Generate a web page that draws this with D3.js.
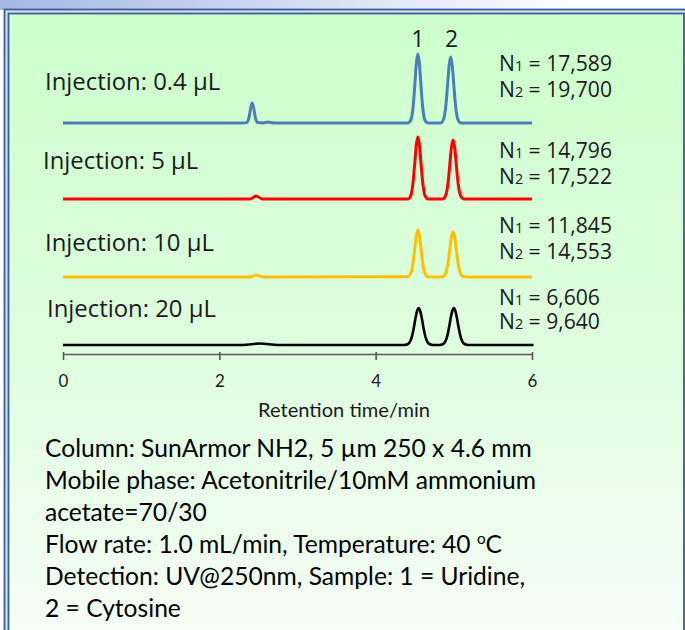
<!DOCTYPE html>
<html><head><meta charset="utf-8">
<script src="https://cdn.jsdelivr.net/npm/d3@7"></script>
<style>body{margin:0;background:#fff}svg{display:block}</style>
</head><body>
<svg id="c" width="685" height="630"></svg>
<script>
// ---------- data ----------
const timeTicks = [0, 2, 4, 6];
const axisTitle = "Retention time/min";
const injectionLabels = ["Injection: 0.4 µL", "Injection: 5 µL", "Injection: 10 µL", "Injection: 20 µL"];
const plateN1 = ["17,589", "14,796", "11,845", "6,606"];
const plateN2 = ["19,700", "17,522", "14,553", "9,640"];
const peakNames = ["1", "2"];
const peakTimes = [4.54, 4.97];
const traceColors = ["#4a7ebb", "#ff0000", "#ffc000", "#000000"];

// [time (min), signal (a.u.)]
const trace04 = [[0,0],[2.30,0],[2.35,0.4],[2.38,5.6],[2.40,14.5],[2.42,20],[2.44,14.5],[2.46,5.6],[2.49,0.4],[2.55,0],[2.62,1],[2.70,0],
  [4.30,0],[4.41,0],[4.45,3],[4.48,17],[4.50,37],[4.52,59],[4.54,69],[4.56,59],[4.58,37],[4.60,17],[4.63,3],[4.67,0],
  [4.83,0],[4.87,4],[4.90,19],[4.92,38],[4.94,57.5],[4.96,66],[4.98,57.5],[5.00,38],[5.02,19],[5.05,4],[5.09,0],[6.0,0]];
const trace5 = [[0,0],[2.40,0],[2.44,2],[2.47,3],[2.50,2],[2.55,0],
  [4.41,0],[4.45,3.7],[4.48,17.9],[4.50,35.6],[4.52,54],[4.54,62],[4.56,54],[4.58,35.6],[4.60,17.9],[4.63,3.7],[4.67,0],
  [4.86,0],[4.90,4.7],[4.93,19],[4.95,35.8],[4.97,52],[4.99,59],[5.01,52],[5.03,35.8],[5.05,19],[5.08,4.7],[5.12,0.3],[5.16,0],[6.0,0]];
const trace10 = [[0,0],[2.40,0],[2.44,1.2],[2.47,2],[2.50,1.2],[2.56,0],
  [4.41,0.2],[4.45,3.8],[4.48,15.3],[4.50,28.5],[4.52,41.5],[4.54,47],[4.56,41.5],[4.58,28.5],[4.60,15.3],[4.63,3.8],[4.67,0.2],[4.72,0],
  [4.82,0],[4.86,0.4],[4.90,4.6],[4.93,16.2],[4.95,28.6],[4.97,40.2],[4.99,45],[5.01,40.2],[5.03,28.6],[5.05,16.2],[5.08,4.6],[5.12,0.4],[5.18,0],[6.0,0]];
const trace20 = [[0,0],[2.30,0],[2.52,1.5],[2.75,0],
  [4.37,0],[4.42,1.3],[4.46,7.3],[4.49,18],[4.51,26.9],[4.53,34],[4.55,37],[4.57,34],[4.59,26.9],[4.61,18],[4.64,7.3],[4.68,1.3],[4.73,0],
  [4.82,0],[4.87,1.3],[4.91,7.3],[4.94,18],[4.96,26.9],[4.98,34],[5.00,37],[5.02,34],[5.04,26.9],[5.06,18],[5.09,7.3],[5.13,1.3],[5.18,0],[6.02,0]];
const traces = [trace04, trace5, trace10, trace20];

const conditionLines = [
  "Column: SunArmor NH2, 5 µm 250 x 4.6 mm",
  "Mobile phase: Acetonitrile/10mM ammonium",
  "acetate=70/30",
  "Flow rate: 1.0 mL/min, Temperature: 40 ^oC",
  "Detection: UV@250nm, Sample: 1 = Uridine,",
  "2 = Cytosine"
];

// ---------- layout ----------
const svg = d3.select("#c");
const defs = svg.append("defs");
const topG = defs.append("linearGradient").attr("id","topg").attr("x1","0").attr("x2","1").attr("y1","0").attr("y2","0");
topG.append("stop").attr("offset","0").attr("stop-color","#a3b8e5");
topG.append("stop").attr("offset","0.85").attr("stop-color","#ffffff");
const bgG = defs.append("linearGradient").attr("id","bgg").attr("x1","0").attr("x2","0").attr("y1","0").attr("y2","1");
bgG.append("stop").attr("offset","0").attr("stop-color","#ccffcc");
bgG.append("stop").attr("offset","0.5").attr("stop-color","#e0fde0");
bgG.append("stop").attr("offset","1").attr("stop-color","#fbfffb");

svg.append("rect").attr("width",685).attr("height",630).attr("fill","#fff");
svg.append("rect").attr("width",685).attr("height",10).attr("fill","url(#topg)");
svg.append("rect").attr("x",4.5).attr("y",9.5).attr("width",700).attr("height",700)
  .attr("fill","#d2e0f2").attr("stroke","#3d5e93").attr("stroke-width",1.8);
svg.append("rect").attr("x",8.5).attr("y",13.5).attr("width",675.5).attr("height",700)
  .attr("fill","url(#bgg)").attr("stroke","#3d5e93").attr("stroke-width",1.8);

const x = d3.scaleLinear().domain([0, 6]).range([63, 532]);
const baselines = [123, 199, 277, 345];
const labelPos = [[45, 90], [43, 169], [45, 251], [47, 317]];
const nPos = [[499, 71, 97], [499, 158, 184], [499, 233, 259], [499, 305, 329]];
const strokeW = [3, 3, 3, 2.6];

const labelFont = "'Open Sans', sans-serif";
const bodyFont = "Lato, 'Open Sans', sans-serif";

function fitSize(family, text, target) {
  const t = svg.append("text").attr("font-family", family).attr("font-size", 100).text(text);
  const w = t.node().getComputedTextLength();
  t.remove();
  return 100 * target / w;
}

// traces
traces.forEach((tr, i) => {
  const y = d3.scaleLinear().domain([0, 100]).range([baselines[i], baselines[i] - 100]);
  const line = d3.line().x(d => x(d[0])).y(d => y(d[1])).curve(d3.curveMonotoneX);
  svg.append("path").datum(tr).attr("d", line).attr("fill", "none")
    .attr("stroke", traceColors[i]).attr("stroke-width", strokeW[i])
    .attr("stroke-linejoin", "round").attr("stroke-linecap", "butt");
});

// injection labels
const labelSize = fitSize(labelFont, injectionLabels[2], 169);
injectionLabels.forEach((s, i) => {
  svg.append("text").attr("x", labelPos[i][0]).attr("y", labelPos[i][1])
    .attr("font-family", labelFont).attr("font-size", labelSize).attr("fill", "#1a1a1a").text(s);
});

// plate numbers
function nText(sub, val, xx, yy, fs) {
  const t = svg.append("text").attr("x", xx).attr("y", yy).attr("font-family", labelFont)
    .attr("font-size", fs).attr("fill", "#1a1a1a");
  t.append("tspan").text("N");
  t.append("tspan").attr("font-size", fs * 0.68).text(sub);
  t.append("tspan").text(" = " + val);
  return t;
}
let nSize = 19;
{
  const t = nText("1", plateN1[1], 0, -50, 100);
  const w = t.node().getBBox().width; t.remove();
  nSize = 100 * 113 / w;
}
plateN1.forEach((v, i) => {
  nText("1", v, nPos[i][0], nPos[i][1], nSize);
  nText("2", plateN2[i], nPos[i][0], nPos[i][2], nSize);
});

// peak numbers
peakNames.forEach((p, i) => {
  svg.append("text").attr("x", x(peakTimes[i])).attr("y", 47).attr("text-anchor", "middle")
    .attr("font-family", labelFont).attr("font-size", 23).attr("fill", "#1a1a1a").text(p);
});

// axis
const axisY = 354;
const ax = svg.append("g").attr("transform", `translate(0,${axisY})`)
  .call(d3.axisBottom(x).tickValues(timeTicks).tickFormat(d3.format("d")).tickSize(6).tickSizeOuter(0).tickPadding(15));
ax.select(".domain").attr("stroke", "#595959").attr("stroke-width", 1.6);
ax.selectAll(".tick line").attr("stroke", "#595959").attr("stroke-width", 1.6).attr("y1", -2);
ax.selectAll(".tick text").attr("font-family", bodyFont).attr("font-size", 17).attr("fill", "#1a1a1a");

const titleSize = fitSize(bodyFont, axisTitle, 172);
svg.append("text").attr("x", 344).attr("y", 417).attr("text-anchor", "middle")
  .attr("font-family", bodyFont).attr("font-size", titleSize).attr("fill", "#1a1a1a").text(axisTitle);

// conditions
const condSize = (fitSize(bodyFont, conditionLines[0], 480) + fitSize(bodyFont, conditionLines[1], 498)) / 2;
conditionLines.forEach((s, i) => {
  const t = svg.append("text").attr("x", 45).attr("y", 457 + i * 32)
    .attr("font-family", bodyFont).attr("font-size", condSize).attr("fill", "#000");
  const parts = s.split("^o");
  t.append("tspan").text(parts[0]);
  if (parts.length > 1) {
    t.append("tspan").attr("font-size", condSize * 0.62).attr("dy", -condSize * 0.38).text("o");
    t.append("tspan").attr("dy", condSize * 0.38).text(parts[1]);
  }
});
</script>
</body></html>
